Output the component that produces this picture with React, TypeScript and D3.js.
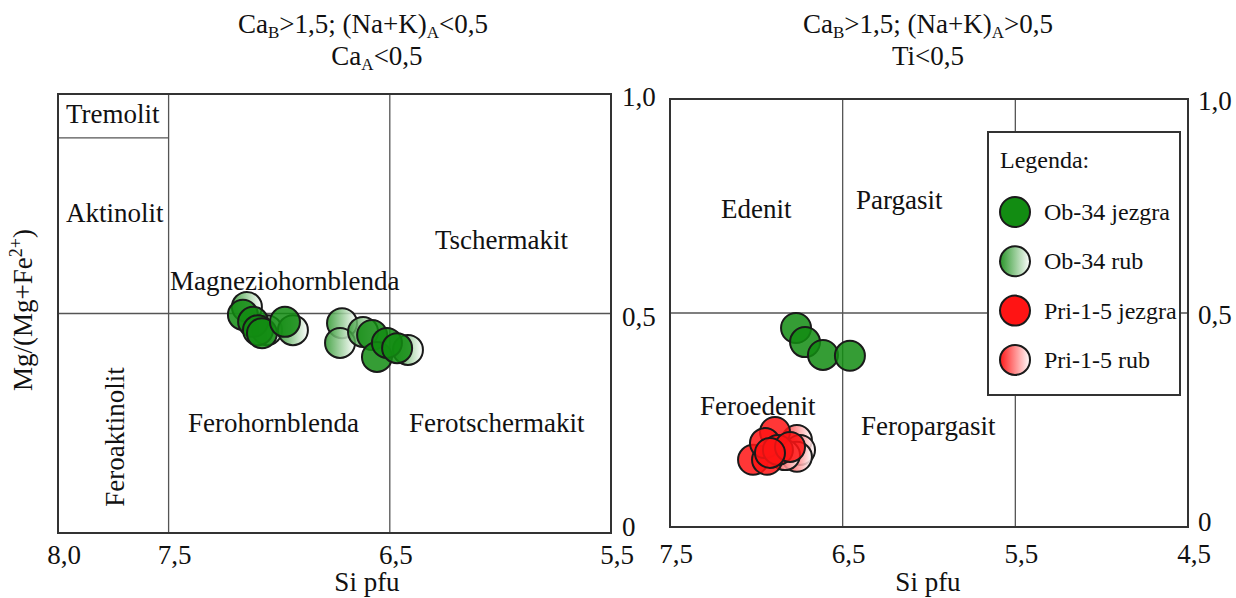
import React from "react";
import * as d3 from "d3";

// ---- data ----
const leftXTicks = [8.0, 7.5, 6.5, 5.5];
const leftXTickLabels = ["8,0", "7,5", "6,5", "5,5"];
const rightXTicks = [7.5, 6.5, 5.5, 4.5];
const rightXTickLabels = ["7,5", "6,5", "5,5", "4,5"];
const yTicks = [0, 0.5, 1.0];
const yTickLabels = ["0", "0,5", "1,0"];

// left panel (Si pfu, Mg/(Mg+Fe2+))
const obJezgraLeft: [number, number][] = [
  [7.164, 0.497], [7.118, 0.481], [7.096, 0.462], [7.078, 0.455], [6.974, 0.481],
  [6.58, 0.451], [6.558, 0.401], [6.513, 0.433], [6.467, 0.421],
];
const obRubLeft: [number, number][] = [
  [7.146, 0.515], [7.055, 0.462], [6.938, 0.462], [6.716, 0.478], [6.725, 0.433],
  [6.621, 0.458], [6.418, 0.417],
];
// right panel
const obJezgraRight: [number, number][] = [
  [6.77, 0.465], [6.718, 0.432], [6.614, 0.402], [6.458, 0.4],
];
const priRub: [number, number][] = [
  [6.765, 0.203], [6.747, 0.18], [6.765, 0.164], [6.834, 0.168],
];
const priJezgra: [number, number][] = [
  [7.019, 0.157], [6.938, 0.157], [6.892, 0.222], [6.95, 0.196], [6.875, 0.18],
  [6.805, 0.187], [6.921, 0.173],
];

const legendItems = [
  { label: "Ob-34 jezgra", fill: "#128c12" },
  { label: "Ob-34 rub", fill: "url(#gradGreen)" },
  { label: "Pri-1-5 jezgra", fill: "#ff1414" },
  { label: "Pri-1-5 rub", fill: "url(#gradRed)" },
];

const FONT = "'Liberation Serif', 'Times New Roman', serif";
const FRAME = "#333";
const LINE = "#555";
const R = 15;
const FS = 27;

export default function App() {
  const xL = d3.scaleLinear().domain([8, 5.5]).range([58, 611]);
  const yL = d3.scaleLinear().domain([0, 1]).range([533, 94]);
  const xR = d3.scaleLinear().domain([7.5, 4.5]).range([670, 1188]);
  const yR = d3.scaleLinear().domain([0, 1]).range([527, 99]);

  const dots = (
    data: [number, number][],
    x: d3.ScaleLinear<number, number>,
    y: d3.ScaleLinear<number, number>,
    fill: string,
    key: string
  ) =>
    data.map((d, i) => (
      <circle
        key={key + i}
        cx={x(d[0])}
        cy={y(d[1])}
        r={R}
        fill={fill}
        fillOpacity={0.85}
        stroke="#1a1a1a"
        strokeWidth={2}
      />
    ));

  const txt = { fontFamily: FONT, fill: "#111" } as const;

  return (
    <svg
      width={1236}
      height={598}
      style={{ position: "absolute", left: 0, top: 0, background: "#fff" }}
    >
      <defs>
        <linearGradient id="gradGreen" x1="0" x2="1" y1="0" y2="0">
          <stop offset="0" stopColor="#2a962a" />
          <stop offset="1" stopColor="#ffffff" />
        </linearGradient>
        <linearGradient id="gradRed" x1="0" x2="1" y1="0" y2="0">
          <stop offset="0" stopColor="#ff1a1a" />
          <stop offset="1" stopColor="#ffffff" />
        </linearGradient>
      </defs>
      <rect width={1236} height={598} fill="#fff" />

      {/* Titles */}
      <text x={363} y={33} fontSize={FS} textAnchor="middle" {...txt}>
        Ca<tspan fontSize={17} dy={5}>B</tspan>
        <tspan dy={-5}>&gt;1,5; (Na+K)</tspan>
        <tspan fontSize={17} dy={5}>A</tspan>
        <tspan dy={-5}>&lt;0,5</tspan>
      </text>
      <text x={377} y={65} fontSize={FS} textAnchor="middle" {...txt}>
        Ca<tspan fontSize={17} dy={5}>A</tspan>
        <tspan dy={-5}>&lt;0,5</tspan>
      </text>
      <text x={928} y={33} fontSize={FS} textAnchor="middle" {...txt}>
        Ca<tspan fontSize={17} dy={5}>B</tspan>
        <tspan dy={-5}>&gt;1,5; (Na+K)</tspan>
        <tspan fontSize={17} dy={5}>A</tspan>
        <tspan dy={-5}>&gt;0,5</tspan>
      </text>
      <text x={928} y={65} fontSize={FS} textAnchor="middle" {...txt}>
        Ti&lt;0,5
      </text>

      {/* Left panel */}
      <g>
        <line x1={xL(7.5)} x2={xL(7.5)} y1={yL(0)} y2={yL(1)} stroke={LINE} strokeWidth={1.3} />
        <line x1={xL(6.5)} x2={xL(6.5)} y1={yL(0)} y2={yL(1)} stroke={LINE} strokeWidth={1.3} />
        <line x1={xL(8)} x2={xL(5.5)} y1={yL(0.5)} y2={yL(0.5)} stroke={LINE} strokeWidth={1.3} />
        <line x1={xL(8)} x2={xL(7.5)} y1={yL(0.9)} y2={yL(0.9)} stroke={LINE} strokeWidth={1.3} />
        <rect
          x={xL(8)}
          y={yL(1)}
          width={xL(5.5) - xL(8)}
          height={yL(0) - yL(1)}
          fill="none"
          stroke={FRAME}
          strokeWidth={2}
        />
        <text x={66} y={123} fontSize={FS} {...txt}>Tremolit</text>
        <text x={66} y={222} fontSize={FS} {...txt}>Aktinolit</text>
        <text x={170} y={290} fontSize={FS} {...txt}>Magneziohornblenda</text>
        <text x={435} y={249} fontSize={FS} {...txt}>Tschermakit</text>
        <text x={188} y={432} fontSize={FS} {...txt}>Ferohornblenda</text>
        <text x={409} y={432} fontSize={FS} {...txt}>Ferotschermakit</text>
        <text
          transform="translate(124,437) rotate(-90)"
          fontSize={FS}
          textAnchor="middle"
          {...txt}
        >
          Feroaktinolit
        </text>
        {dots(obRubLeft, xL, yL, "url(#gradGreen)", "lr")}
        {dots(obJezgraLeft, xL, yL, "#128c12", "lj")}
        {leftXTicks.map((t, i) => (
          <text key={"lx" + i} x={xL(t) + 6} y={564} fontSize={FS} textAnchor="middle" {...txt}>
            {leftXTickLabels[i]}
          </text>
        ))}
        {yTicks.map((t, i) => (
          <text key={"ly" + i} x={622} y={Math.min(yL(t) + 12, yL(0) + 3)} fontSize={FS} {...txt}>
            {yTickLabels[i]}
          </text>
        ))}
        <text x={367} y={591} fontSize={FS} textAnchor="middle" {...txt}>Si pfu</text>
        <text transform="translate(32,310) rotate(-90)" fontSize={FS} textAnchor="middle" {...txt}>
          Mg/(Mg+Fe<tspan fontSize={18} dy={-10}>2+</tspan>
          <tspan dy={10}>)</tspan>
        </text>
      </g>

      {/* Right panel */}
      <g>
        <line x1={xR(6.5)} x2={xR(6.5)} y1={yR(0)} y2={yR(1)} stroke={LINE} strokeWidth={1.3} />
        <line x1={xR(5.5)} x2={xR(5.5)} y1={yR(0)} y2={yR(1)} stroke={LINE} strokeWidth={1.3} />
        <line x1={xR(7.5)} x2={xR(4.5)} y1={yR(0.5)} y2={yR(0.5)} stroke={LINE} strokeWidth={1.3} />
        <rect
          x={xR(7.5)}
          y={yR(1)}
          width={xR(4.5) - xR(7.5)}
          height={yR(0) - yR(1)}
          fill="none"
          stroke={FRAME}
          strokeWidth={2}
        />
        <text x={721} y={218} fontSize={FS} {...txt}>Edenit</text>
        <text x={856} y={209} fontSize={FS} {...txt}>Pargasit</text>
        <text x={700} y={415} fontSize={FS} {...txt}>Feroedenit</text>
        <text x={861} y={435} fontSize={FS} {...txt}>Feropargasit</text>
        {dots(obJezgraRight, xR, yR, "#128c12", "rj")}
        {dots(priRub, xR, yR, "url(#gradRed)", "pr")}
        {dots(priJezgra, xR, yR, "#ff1414", "pj")}
        {rightXTicks.map((t, i) => (
          <text key={"rx" + i} x={xR(t) + 6} y={563} fontSize={FS} textAnchor="middle" {...txt}>
            {rightXTickLabels[i]}
          </text>
        ))}
        {yTicks.map((t, i) => (
          <text key={"ry" + i} x={1198} y={Math.min(yR(t) + 11, yR(0) + 4)} fontSize={FS} {...txt}>
            {yTickLabels[i]}
          </text>
        ))}
        <text x={928} y={591} fontSize={FS} textAnchor="middle" {...txt}>Si pfu</text>

        {/* Legend */}
        <rect x={988} y={132} width={192} height={263} fill="#fff" stroke={FRAME} strokeWidth={2} />
        <text x={1000} y={168} fontSize={24} {...txt}>Legenda:</text>
        {legendItems.map((it, i) => {
          const cy = 212 + i * 49.3;
          return (
            <g key={"lg" + i}>
              <circle cx={1015} cy={cy} r={R} fill={it.fill} stroke="#1a1a1a" strokeWidth={2} />
              <text x={1044} y={cy + 8} fontSize={24} {...txt}>{it.label}</text>
            </g>
          );
        })}
      </g>
    </svg>
  );
}
